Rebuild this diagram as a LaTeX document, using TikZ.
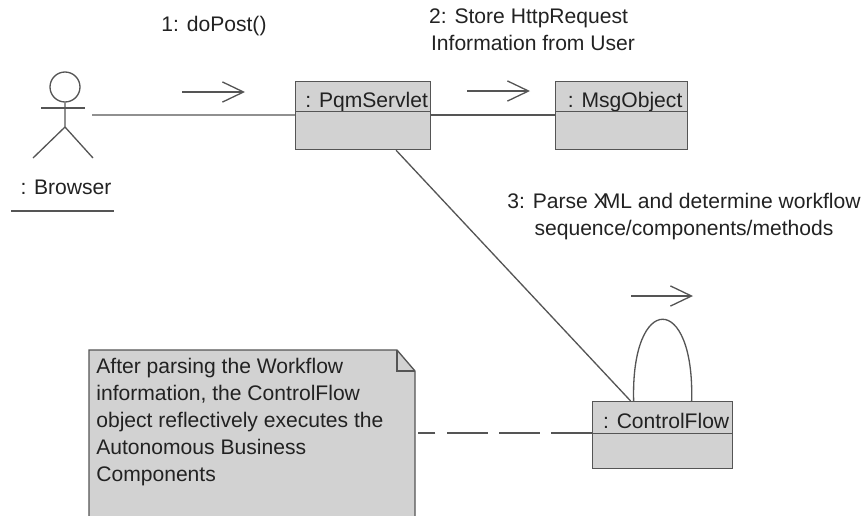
\documentclass[tikz,border=0pt]{standalone}
\usepackage{fontspec}
\setmainfont{Liberation Sans}
\usetikzlibrary{positioning,arrows.meta}
\definecolor{boxgray}{HTML}{D2D2D2}
\definecolor{linegray}{HTML}{555555}
\definecolor{textgray}{HTML}{222222}
\tikzset{
  umlline/.style={draw=linegray,line width=0.75pt},
  msgarrow/.style={umlline,-{Straight Barb[length=12pt,width=11.5pt,line width=0.75pt]}},
  objhead/.style={umlline,fill=boxgray,text=textgray,anchor=north west,inner sep=0pt,
    text height=11.8pt,text depth=0pt,font=\fontsize{12}{14}\selectfont,
    execute at begin node=\hspace*{4pt}},
  objbody/.style={umlline,fill=boxgray,anchor=north west,inner sep=0pt},
  msglabel/.style={text=textgray,align=center,font=\fontsize{12}{15.4}\selectfont},
}

\begin{document}
\begin{tikzpicture}[x=0.02cm,y=-0.02cm]
  \useasboundingbox (0,0) rectangle (863,515);
  % actor
  \node [circle,umlline,minimum size=0.6cm,inner sep=0pt] (head) at (65,87) {};
  \coordinate (hip) at (65,127);
  \coordinate (larm) at (41,108);
  \coordinate (rarm) at (85,108);
  \coordinate (lfoot) at (33,158);
  \coordinate (rfoot) at (93,158);
  \draw [umlline] (head) -- (hip) -- (lfoot);
  \draw [umlline] (hip) -- (rfoot);
  \draw [umlline] (larm) -- (rarm);
  \node [msglabel] (browser) at (66,187) {: Browser};
  \coordinate (ula) at (11,211);
  \coordinate (ulb) at (114,211);
  \draw [umlline] (ula) -- (ulb);
  % objects
  \node [objhead,minimum width=2.7cm,minimum height=0.6cm] (pqm) at (295,81) {: PqmServlet};
  \node [objbody,minimum width=2.7cm,minimum height=0.76cm] (pqmb) at (295,111) {};
  \node [objhead,minimum width=2.64cm,minimum height=0.6cm] (msg) at (555,81) {: MsgObject};
  \node [objbody,minimum width=2.64cm,minimum height=0.76cm] (msgb) at (555,111) {};
  \node [objhead,minimum width=2.8cm,minimum height=0.64cm] (flow) at (592,401) {: ControlFlow};
  \node [objbody,minimum width=2.8cm,minimum height=0.7cm] (flowb) at (592,433) {};
  % note
  \draw [umlline,fill=boxgray] (89,350) -- (397,350) -- (415,371) -- (415,518) -- (89,518) -- cycle;
  \draw [umlline] (397,350) -- (397,371) -- (415,371);
  \node [msglabel,align=left,anchor=north west,inner sep=0pt] (note) at (96,357.5)
    {After parsing the Workflow\\information, the ControlFlow\\object reflectively executes the\\Autonomous Business\\Components};
  \coordinate (noteside) at (418,433);
  % links
  \coordinate (hand) at (92,115);
  \draw [umlline] (hand) -- ([yshift=-0.08cm]pqmb.north west);
  \draw [umlline] ([yshift=-0.08cm]pqmb.north east) -- ([yshift=-0.08cm]msgb.north west);
  \draw [umlline] ([xshift=0.66cm]pqmb.south) -- ([xshift=-0.64cm]flow.north);
  \draw [umlline] ([xshift=-0.58cm]flow.north) .. controls +(-0.06cm,2.18cm) and +(0.06cm,2.18cm) .. ([xshift=0.58cm]flow.north);
  \draw [umlline,dash pattern=on 23.2pt off 6.5pt] (flowb.north west) -- (noteside);
  % messages
  \coordinate (m1a) at (182,92);
  \coordinate (m1b) at (245,92);
  \coordinate (m2a) at (467,91);
  \coordinate (m2b) at (530,91);
  \coordinate (m3a) at (631,296);
  \coordinate (m3b) at (693,296);
  \draw [msgarrow] (m1a) -- (m1b);
  \draw [msgarrow] (m2a) -- (m2b);
  \draw [msgarrow] (m3a) -- (m3b);
  \node [msglabel] (m1) at (214,26) {1: doPost()};
  \node [msglabel] (m2) at (533,30) {2: Store HttpRequest\hspace*{5pt}\\Information from User};
  \node [msglabel] (m3) at (684,217) {3: Parse X\kern-2.8pt ML and determine workflow\\sequence/components/methods};
\end{tikzpicture}
\end{document}
